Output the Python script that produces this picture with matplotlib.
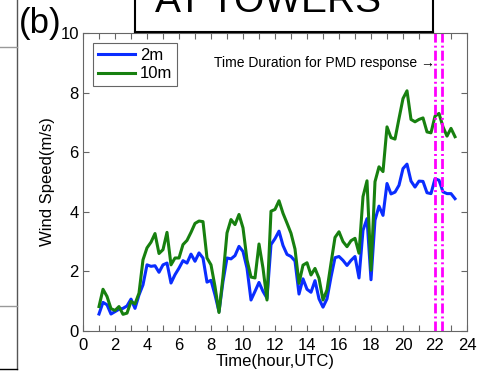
import matplotlib
matplotlib.use("Agg")
import matplotlib.pyplot as plt
from matplotlib.lines import Line2D
from matplotlib.ticker import MultipleLocator
import numpy as np

plt.rcParams["font.family"] = ["Liberation Sans", "DejaVu Sans"]

# wind speed (m/s), one value every 15 min starting 01:00 UTC
wind_2m = [
    0.57, 0.96, 0.88, 0.57, 0.65, 0.73, 0.76, 0.84, 1.07, 0.76,
    1.21, 1.55, 2.22, 2.17, 2.19, 1.97, 2.22, 2.28, 1.61, 1.89,
    2.11, 2.36, 2.28, 2.58, 2.34, 2.62, 2.45, 1.64, 1.70, 1.21,
    0.65, 1.66, 2.45, 2.42, 2.53, 2.84, 2.67, 2.11, 1.04, 1.33,
    1.63, 1.33, 1.10, 2.90, 3.10, 3.35, 2.87, 2.57, 2.50, 2.35,
    1.24, 1.75, 1.40, 1.30, 1.69, 1.08, 0.80, 1.08, 1.81, 2.46,
    2.50, 2.37, 2.20, 2.37, 2.50, 1.78, 3.38, 3.77, 1.72, 3.72,
    4.19, 3.88, 4.95, 4.60, 4.66, 4.89, 5.45, 5.60, 5.03, 4.83,
    5.03, 5.02, 4.64, 4.61, 5.11, 5.06, 4.67, 4.61, 4.61, 4.44,
]
wind_10m = [
    0.82, 1.40, 1.16, 0.75, 0.69, 0.82, 0.56, 0.60, 0.99, 0.91,
    1.27, 2.39, 2.79, 2.98, 3.27, 2.60, 2.73, 3.31, 2.22, 2.45,
    2.45, 2.90, 3.04, 3.31, 3.61, 3.69, 3.67, 2.45, 2.22, 1.49,
    0.62, 1.83, 3.29, 3.74, 3.57, 3.91, 3.46, 2.39, 1.81, 1.78,
    2.92, 2.11, 1.04, 4.02, 4.08, 4.37, 3.95, 3.62, 3.28, 2.75,
    1.60, 2.21, 2.29, 1.88, 2.10, 1.77, 1.04, 1.38, 2.27, 3.14,
    3.33, 3.00, 2.83, 3.03, 3.11, 2.61, 4.51, 5.04, 2.04, 5.01,
    5.51, 5.35, 6.85, 6.49, 6.44, 7.13, 7.80, 8.06, 7.10, 7.02,
    7.10, 7.15, 6.68, 6.65, 7.21, 7.30, 6.85, 6.54, 6.80, 6.52,
]
hours = 1 + 0.25 * np.arange(len(wind_2m))

pmd_window = [22.0, 22.45]
series_labels = ["2m", "10m"]
series_colors = ["#0a2dff", "#17800f"]

axis_color = "#666666"

fig = plt.figure(figsize=(4.81, 3.71), dpi=100)
ax = fig.add_axes([83 / 481, 40 / 371, 384 / 481, 298 / 371])

ax.plot(hours, wind_2m, color=series_colors[0], lw=2.2, label=series_labels[0])
ax.plot(hours, wind_10m, color=series_colors[1], lw=2.2, label=series_labels[1])

for x in pmd_window:
    ax.axvline(x, color="#ff00ff", lw=2.0, dashes=(3.6, 1.1, 0.7, 1.1))

ax.text(pmd_window[0], 9.0, "Time Duration for PMD response \u2192",
        ha="right", va="center", fontsize=10)

ax.set_xlim(0, 24)
ax.set_ylim(0, 10)
ax.xaxis.set_major_locator(MultipleLocator(2))
ax.xaxis.set_minor_locator(MultipleLocator(1))
ax.yaxis.set_major_locator(MultipleLocator(2))
ax.tick_params(which="both", direction="in", top=True, right=True,
               color=axis_color, length=4, width=0.8, labelsize=12, pad=3)
ax.tick_params(axis="x", pad=5)
for sp in ax.spines.values():
    sp.set_color(axis_color)
    sp.set_linewidth(0.8)

ax.set_xlabel("Time(hour,UTC)", fontsize=12, labelpad=1)
ax.set_ylabel("Wind Speed(m/s)", fontsize=12, labelpad=4)

leg = ax.legend(loc="upper left", bbox_to_anchor=(0.026, 0.966),
                borderaxespad=0, fontsize=12, handlelength=2.2,
                handletextpad=0.3, labelspacing=0.2, borderpad=0.3,
                fancybox=False, framealpha=1)
leg.get_frame().set_edgecolor(axis_color)
leg.get_frame().set_linewidth(0.8)

# panel label and title box (cut off at the top, as in the source)
fig.text(19 / 481, 1 - 33 / 371, "(b)", fontsize=25, va="baseline")
fig.text(155 / 481, 1 - 12 / 371, "AT TOWERS", fontsize=28, va="baseline")
bx0, bx1, by = 135 / 481, 433 / 481, 1 - 32 / 371
for xs, ys in [([bx0, bx0], [by, 1.05]), ([bx0, bx1], [by, by]),
               ([bx1, bx1], [by, 1.05])]:
    fig.add_artist(Line2D(xs, ys, color="black", lw=1.5,
                          transform=fig.transFigure))

# edge of the neighbouring panel on the left
px = 17 / 481
fig.add_artist(Line2D([px, px], [1 - 369 / 371, 1.0], color="#555555",
                      lw=1.0, transform=fig.transFigure))
for y, c in [(1 - 47 / 371, "#999999"), (1 - 306 / 371, "#999999"),
             (1 - 369 / 371, "black")]:
    fig.add_artist(Line2D([0, px], [y, y], color=c, lw=1.0,
                          transform=fig.transFigure))

fig.savefig("out.png", dpi=100)
